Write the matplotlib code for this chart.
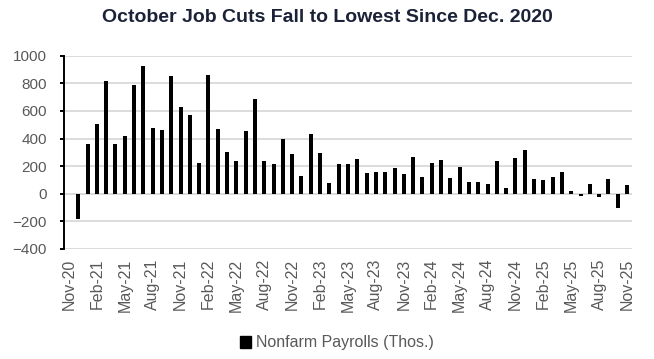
import numpy as np
import matplotlib
matplotlib.use("Agg")
import matplotlib.pyplot as plt
from matplotlib.patches import Patch

# Monthly categories Nov-20 .. Nov-25 (61 months); Nov-20 has no bar
tick_labels = ['Nov-20', 'Feb-21', 'May-21', 'Aug-21', 'Nov-21', 'Feb-22', 'May-22',
               'Aug-22', 'Nov-22', 'Feb-23', 'May-23', 'Aug-23', 'Nov-23', 'Feb-24',
               'May-24', 'Aug-24', 'Nov-24', 'Feb-25', 'May-25', 'Aug-25', 'Nov-25']
n_months = 61

# Nonfarm payrolls (thousands), Dec-20 .. Nov-25
payrolls = [-186, 358, 503, 815, 358, 416, 786, 924, 479, 460, 852, 627, 569, 220,
            861, 467, 300, 235, 452, 690, 235, 218, 394, 290, 126, 436, 298, 80,
            213, 218, 249, 148, 155, 155, 184, 140, 264, 119, 220, 242, 111, 191,
            82, 82, 68, 235, 39, 257, 315, 104, 97, 119, 155, 17, -15, 68, -24,
            104, -104, 60]

values = np.array([np.nan] + payrolls, dtype=float)
x = np.arange(n_months)

plt.rcParams['font.family'] = ['Liberation Sans', 'DejaVu Sans']

fig = plt.figure(figsize=(6.54, 3.59), dpi=100)
ax = fig.add_axes([64.3 / 654, 1 - 249 / 359, (631.7 - 64.3) / 654, (249 - 55.7) / 359])

ax.bar(x, values, width=0.43, color='black', zorder=3)

ax.set_xlim(-0.5, n_months - 0.5)
ax.set_ylim(-400, 1000)
ax.set_yticks(np.arange(-400, 1001, 200))
ax.yaxis.grid(True, color='#d9d9d9', linewidth=1.3, zorder=0)
ax.set_axisbelow(True)

for s in ['top', 'right', 'bottom']:
    ax.spines[s].set_visible(False)
ax.spines['left'].set_linewidth(1.4)
ax.spines['left'].set_color('black')

ax.tick_params(axis='y', length=3, width=1.4, color='black', pad=9.5,
               labelsize=11, labelcolor='#595959')
ax.set_xticks(x[::3])
ax.set_xticklabels(tick_labels, rotation=90, fontsize=11.5, color='#595959')
ax.tick_params(axis='x', length=0, pad=7)

fig.text(327 / 654, 1 - 18 / 359, 'October Job Cuts Fall to Lowest Since Dec. 2020',
         ha='center', va='center', fontsize=14, fontweight='bold', color='#1b2238')

handle = Patch(facecolor='black', edgecolor='black', label='Nonfarm Payrolls (Thos.)')
fig.legend(handles=[handle], loc='center', bbox_to_anchor=(337 / 654, 1 - 343 / 359),
           frameon=False, fontsize=11.5, labelcolor='#595959',
           handlelength=0.7, handleheight=0.7, handletextpad=0.3)

fig.savefig('out.png', dpi=100)
